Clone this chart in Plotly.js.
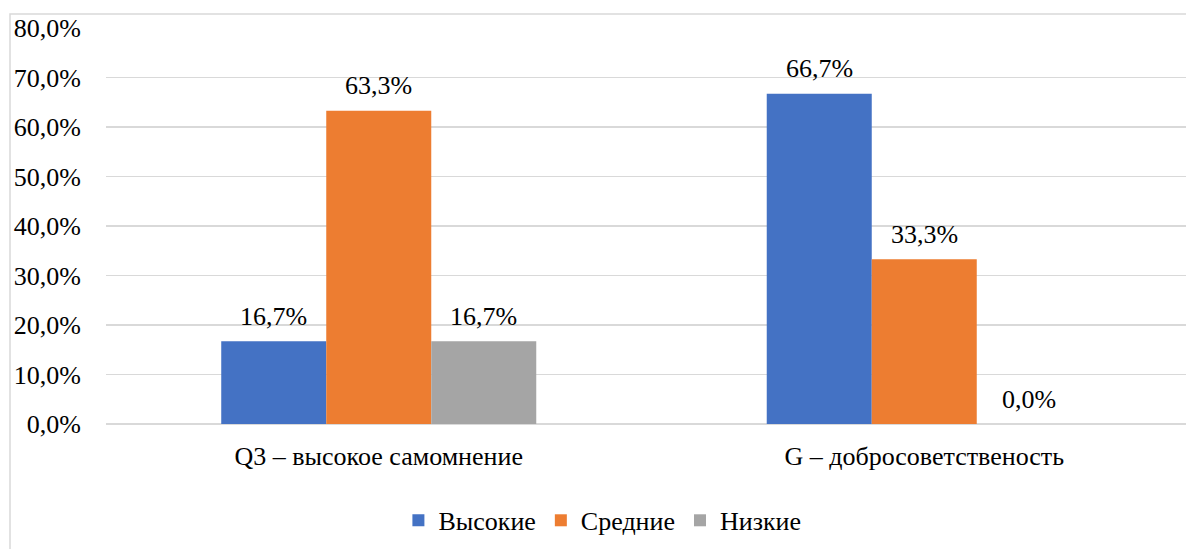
<!DOCTYPE html>
<html>
<head>
<meta charset="utf-8">
<script src="https://cdn.plot.ly/plotly-3.0.1.min.js"></script>
<style>
html,body{margin:0;padding:0;background:#fff;overflow:hidden;width:1186px;height:549px;}
#chart{width:1200px;height:549px;}
</style>
</head>
<body>
<div id="chart"></div>
<script>
var categories = ["Q3 – высокое самомнение", "G – добросоветственость"];
var seriesNames = ["Высокие", "Средние", "Низкие"];
var vHigh = [16.7, 66.7];
var vMid = [63.3, 33.3];
var vLow = [16.7, 0.0];
var yTickVals = [0, 10, 20, 30, 40, 50, 60, 70, 80];
var yTickText = ["0,0%", "10,0%", "20,0%", "30,0%", "40,0%", "50,0%", "60,0%", "70,0%", "80,0%"];

var colors = ["#4472C4", "#ED7D31", "#A5A5A5"];
var allSeries = [vHigh, vMid, vLow];
var FONT = "Liberation Serif";
var FS = 26;
var bargap = 0.4225;

function fmt(v){ return v.toFixed(1).replace('.', ',') + '%'; }

var traces = allSeries.map(function(vals, i){
  return {
    type: 'bar',
    name: seriesNames[i],
    x: categories,
    y: vals,
    marker: {color: colors[i]},
    hoverinfo: 'none'
  };
});

var annotations = [];
var groupW = 1 - bargap;
var barW = groupW / allSeries.length;
allSeries.forEach(function(vals, i){
  vals.forEach(function(v, j){
    annotations.push({
      xref: 'x', yref: 'y',
      x: j + (i - (allSeries.length - 1) / 2) * barW,
      y: v,
      text: fmt(v),
      showarrow: false,
      xanchor: 'center', yanchor: 'middle',
      yshift: 25,
      font: {family: FONT, size: FS, color: '#000'}
    });
  });
});

var layout = {
  width: 1200,
  height: 549,
  autosize: false,
  margin: {l: 106, r: 3, t: 28, b: 124.5, autoexpand: false},
  paper_bgcolor: '#fff',
  plot_bgcolor: '#fff',
  font: {family: FONT, size: FS, color: '#000'},
  barmode: 'group',
  bargap: bargap,
  bargroupgap: 0,
  showlegend: true,
  legend: {
    orientation: 'h',
    x: 0.455,
    xanchor: 'center',
    y: -0.2434,
    yanchor: 'middle',
    font: {family: FONT, size: FS, color: '#000'},
    itemclick: false,
    itemdoubleclick: false
  },
  xaxis: {
    type: 'category',
    showgrid: false,
    zeroline: false,
    showline: false,
    ticks: '',
    tickangle: 0,
    automargin: false,
    ticklabelstandoff: 14,
    tickfont: {family: FONT, size: FS, color: '#000'},
    fixedrange: true
  },
  yaxis: {
    range: [0, 80],
    tickvals: yTickVals,
    ticktext: yTickText,
    showgrid: true,
    gridcolor: '#D9D9D9',
    gridwidth: 1.5,
    zeroline: true,
    zerolinecolor: '#D9D9D9',
    zerolinewidth: 1.5,
    showline: false,
    ticks: '',
    automargin: false,
    ticklabelstandoff: 24,
    tickfont: {family: FONT, size: FS, color: '#000'},
    fixedrange: true
  },
  annotations: annotations,
  shapes: [{
    type: 'rect',
    xref: 'paper', yref: 'paper',
    x0: -96/1091, x1: 1.2,
    y0: -0.6, y1: (424.5 - 14) / 396.5,
    line: {color: '#D9D9D9', width: 1.5},
    fillcolor: 'rgba(0,0,0,0)',
    layer: 'below'
  }]
};

Plotly.newPlot('chart', traces, layout, {displayModeBar: false, staticPlot: true});
</script>
</body>
</html>
